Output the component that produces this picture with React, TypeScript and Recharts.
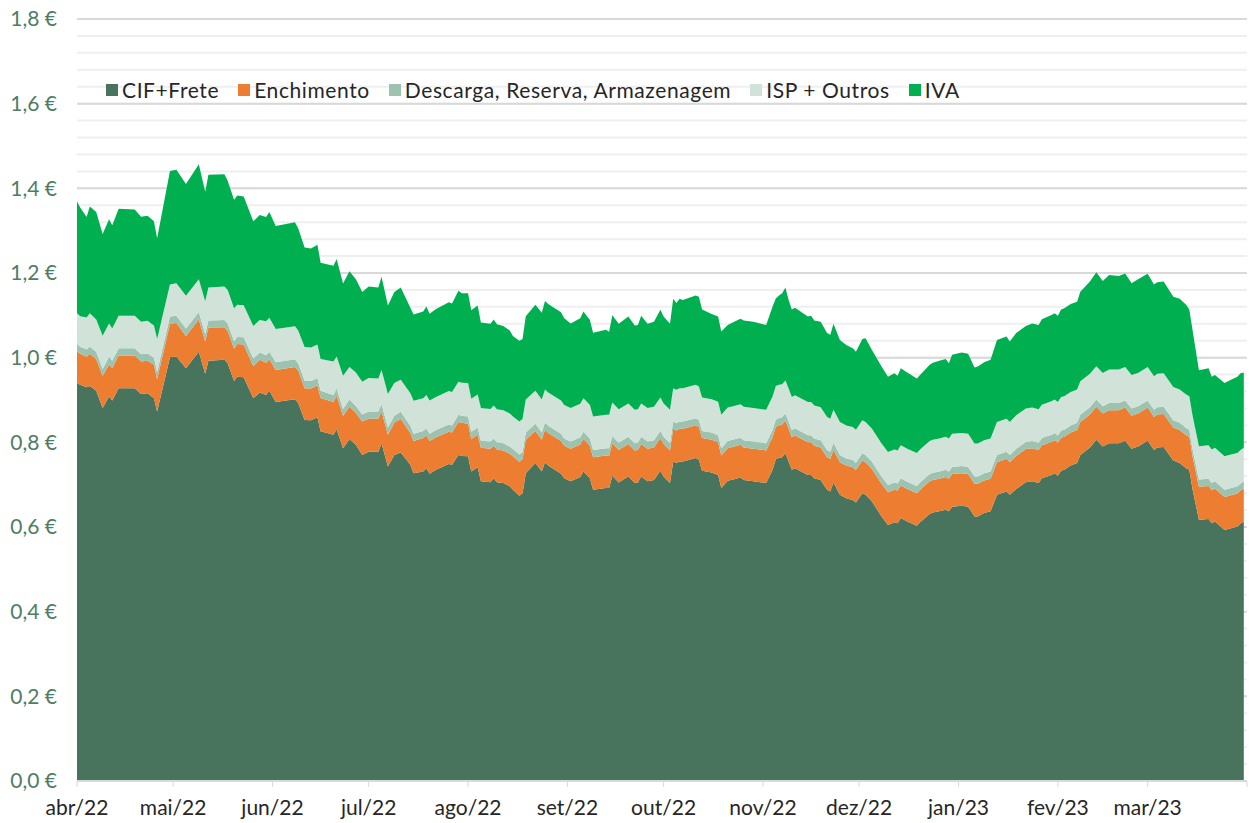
import React from 'react';
import { AreaChart, Area, XAxis, YAxis, CartesianGrid } from 'recharts';

// day index counted from 1 Apr 2022
const days = [
  0, 1, 3, 4, 6, 8, 10, 11, 13, 18, 20, 22, 24, 25, 29, 31, 34, 38, 40, 41,
  46, 47, 49, 50, 52, 55, 57, 59, 60, 62, 68, 69, 71, 73,
  75, 76, 80, 81, 83, 85, 87, 89, 91, 94, 95, 97, 99, 101, 104, 105, 108, 109, 110, 112,
  116, 117, 119, 120, 122, 123, 125, 126, 129, 130, 131, 133, 135, 136, 138, 139, 140, 143, 145, 146,
  147, 151, 152, 154, 157, 158, 160, 161, 165, 166, 167, 169, 172, 174, 175, 176, 178, 180, 182, 183,
  185, 186, 187, 188, 189, 193, 194, 195, 198, 200, 201, 203, 205, 207, 208, 211, 215, 217, 218, 219,
  220, 221, 222, 223, 224, 228, 229, 230, 232, 234, 235, 236, 238, 240, 242, 243, 245, 246, 248, 251,
  253, 255, 256, 257, 259, 262, 263, 266, 267, 269, 271, 272, 273, 276, 278, 280, 281, 283, 285, 287,
  290, 291,
  293, 296, 298, 300, 301, 304, 305, 306, 307, 308, 310, 312, 313, 316, 318, 320, 322, 325, 327, 329,
  331, 334, 336, 337, 339, 342, 344, 346, 347, 348, 350, 353, 354, 355, 358, 360, 362, 363, 364,
];

const cifFrete = [
  0.940, 0.936, 0.930, 0.933, 0.922, 0.881, 0.908, 0.899, 0.928, 0.928, 0.914, 0.916, 0.904, 0.873, 1.001, 1.003, 0.975, 1.014, 0.962, 0.993,
  0.995, 0.987, 0.945, 0.955, 0.954, 0.904, 0.918, 0.912, 0.922, 0.895, 0.902, 0.893, 0.853, 0.852,
  0.859, 0.826, 0.818, 0.831, 0.786, 0.807, 0.794, 0.770, 0.778, 0.778, 0.798, 0.743, 0.770, 0.776, 0.747, 0.727, 0.731, 0.739, 0.726, 0.735,
  0.749, 0.747, 0.770, 0.768, 0.767, 0.731, 0.741, 0.708, 0.706, 0.715, 0.706, 0.704, 0.696, 0.688, 0.674, 0.680, 0.727, 0.751, 0.731, 0.753,
  0.745, 0.726, 0.715, 0.708, 0.718, 0.731, 0.715, 0.688, 0.692, 0.692, 0.721, 0.705, 0.719, 0.704, 0.705, 0.719, 0.708, 0.711, 0.733, 0.719,
  0.704, 0.755, 0.751, 0.755, 0.755, 0.763, 0.759, 0.733, 0.729, 0.723, 0.692, 0.709, 0.713, 0.717, 0.711, 0.708, 0.704, 0.735, 0.760, 0.763,
  0.765, 0.774, 0.755, 0.735, 0.739, 0.723, 0.723, 0.715, 0.711, 0.688, 0.684, 0.705, 0.676, 0.668, 0.664, 0.658, 0.680, 0.676, 0.660, 0.625,
  0.605, 0.611, 0.609, 0.621, 0.613, 0.603, 0.611, 0.631, 0.634, 0.637, 0.641, 0.637, 0.648, 0.650, 0.648, 0.625, 0.625, 0.633, 0.637, 0.676,
  0.684, 0.676,
  0.690, 0.706, 0.708, 0.704, 0.715, 0.723, 0.727, 0.721, 0.733, 0.735, 0.745, 0.751, 0.770, 0.788, 0.806, 0.790, 0.798, 0.798, 0.804, 0.785,
  0.790, 0.804, 0.782, 0.788, 0.789, 0.757, 0.751, 0.739, 0.735, 0.690, 0.617, 0.619, 0.609, 0.613, 0.593, 0.597, 0.601, 0.608, 0.613,
];

const enchimento = [
  0.075, 0.073, 0.072, 0.076, 0.074, 0.076, 0.076, 0.076, 0.077, 0.077, 0.077, 0.077, 0.079, 0.076, 0.079, 0.079, 0.076, 0.076, 0.076, 0.078,
  0.077, 0.076, 0.076, 0.077, 0.077, 0.076, 0.077, 0.076, 0.074, 0.076, 0.076, 0.077, 0.075, 0.075,
  0.076, 0.079, 0.077, 0.079, 0.076, 0.077, 0.075, 0.079, 0.078, 0.078, 0.075, 0.075, 0.076, 0.079, 0.075, 0.076, 0.079, 0.077, 0.077, 0.077,
  0.076, 0.076, 0.078, 0.078, 0.077, 0.077, 0.077, 0.079, 0.079, 0.077, 0.077, 0.077, 0.077, 0.079, 0.080, 0.080, 0.079, 0.076, 0.075, 0.077,
  0.077, 0.077, 0.077, 0.077, 0.077, 0.077, 0.077, 0.077, 0.077, 0.077, 0.077, 0.077, 0.077, 0.077, 0.077, 0.077, 0.077, 0.077, 0.077, 0.077,
  0.077, 0.077, 0.077, 0.077, 0.077, 0.077, 0.077, 0.077, 0.077, 0.077, 0.077, 0.077, 0.077, 0.077, 0.077, 0.077, 0.077, 0.077, 0.077, 0.077,
  0.077, 0.077, 0.077, 0.077, 0.077, 0.077, 0.077, 0.077, 0.077, 0.077, 0.077, 0.077, 0.077, 0.077, 0.077, 0.077, 0.077, 0.077, 0.077, 0.077,
  0.077, 0.077, 0.077, 0.077, 0.077, 0.077, 0.077, 0.077, 0.077, 0.077, 0.077, 0.077, 0.077, 0.077, 0.077, 0.077, 0.077, 0.077, 0.077, 0.077,
  0.077, 0.077,
  0.078, 0.078, 0.078, 0.078, 0.078, 0.078, 0.078, 0.078, 0.078, 0.078, 0.078, 0.078, 0.078, 0.078, 0.078, 0.078, 0.078, 0.078, 0.078, 0.078,
  0.078, 0.078, 0.078, 0.078, 0.078, 0.078, 0.078, 0.078, 0.078, 0.078, 0.078, 0.078, 0.078, 0.078, 0.078, 0.078, 0.078, 0.078, 0.078,
];

const descarga = [
  0.018, 0.017, 0.018, 0.017, 0.018, 0.016, 0.018, 0.018, 0.017, 0.017, 0.017, 0.017, 0.017, 0.017, 0.017, 0.017, 0.018, 0.018, 0.018, 0.017,
  0.017, 0.018, 0.018, 0.017, 0.017, 0.018, 0.017, 0.018, 0.018, 0.018, 0.018, 0.017, 0.018, 0.018,
  0.017, 0.017, 0.017, 0.017, 0.017, 0.017, 0.017, 0.017, 0.017, 0.017, 0.017, 0.017, 0.017, 0.017, 0.017, 0.017, 0.017, 0.017, 0.017, 0.017,
  0.017, 0.017, 0.017, 0.017, 0.017, 0.017, 0.017, 0.017, 0.017, 0.017, 0.017, 0.017, 0.017, 0.017, 0.017, 0.017, 0.017, 0.017, 0.017, 0.017,
  0.017, 0.017, 0.017, 0.017, 0.017, 0.017, 0.017, 0.017, 0.017, 0.017, 0.017, 0.017, 0.017, 0.017, 0.017, 0.017, 0.017, 0.017, 0.017, 0.017,
  0.017, 0.017, 0.017, 0.017, 0.017, 0.017, 0.017, 0.017, 0.017, 0.017, 0.017, 0.017, 0.017, 0.017, 0.017, 0.017, 0.017, 0.017, 0.017, 0.017,
  0.017, 0.017, 0.017, 0.017, 0.017, 0.017, 0.017, 0.017, 0.017, 0.017, 0.017, 0.017, 0.017, 0.017, 0.017, 0.017, 0.017, 0.017, 0.017, 0.017,
  0.017, 0.017, 0.017, 0.017, 0.017, 0.017, 0.017, 0.017, 0.017, 0.017, 0.017, 0.017, 0.017, 0.017, 0.017, 0.017, 0.017, 0.017, 0.017, 0.017,
  0.017, 0.017,
  0.017, 0.017, 0.017, 0.017, 0.017, 0.017, 0.017, 0.017, 0.017, 0.017, 0.017, 0.017, 0.017, 0.017, 0.017, 0.017, 0.017, 0.017, 0.017, 0.017,
  0.017, 0.017, 0.017, 0.017, 0.017, 0.017, 0.017, 0.017, 0.017, 0.017, 0.017, 0.017, 0.017, 0.017, 0.017, 0.017, 0.017, 0.017, 0.017,
];

const ispOutros = [
  0.072, 0.072, 0.075, 0.079, 0.076, 0.079, 0.079, 0.076, 0.077, 0.077, 0.077, 0.077, 0.076, 0.078, 0.076, 0.077, 0.077, 0.077, 0.077, 0.078,
  0.079, 0.079, 0.078, 0.076, 0.076, 0.077, 0.077, 0.080, 0.080, 0.079, 0.078, 0.077, 0.079, 0.079,
  0.079, 0.075, 0.079, 0.076, 0.078, 0.077, 0.079, 0.077, 0.079, 0.078, 0.081, 0.079, 0.077, 0.076, 0.077, 0.078, 0.077, 0.079, 0.079, 0.078,
  0.079, 0.079, 0.078, 0.078, 0.079, 0.078, 0.078, 0.077, 0.077, 0.078, 0.078, 0.078, 0.078, 0.077, 0.078, 0.078, 0.078, 0.078, 0.078, 0.078,
  0.079, 0.079, 0.079, 0.079, 0.079, 0.079, 0.079, 0.079, 0.079, 0.079, 0.079, 0.079, 0.079, 0.079, 0.079, 0.079, 0.079, 0.079, 0.079, 0.079,
  0.079, 0.079, 0.079, 0.079, 0.079, 0.079, 0.079, 0.079, 0.079, 0.079, 0.079, 0.079, 0.079, 0.079, 0.079, 0.079, 0.079, 0.079, 0.079, 0.079,
  0.078, 0.078, 0.078, 0.078, 0.078, 0.078, 0.078, 0.078, 0.078, 0.078, 0.078, 0.078, 0.078, 0.078, 0.078, 0.078, 0.078, 0.078, 0.078, 0.078,
  0.078, 0.078, 0.078, 0.078, 0.078, 0.078, 0.078, 0.078, 0.078, 0.078, 0.078, 0.078, 0.078, 0.078, 0.078, 0.078, 0.078, 0.078, 0.078, 0.078,
  0.078, 0.078,
  0.079, 0.079, 0.079, 0.079, 0.079, 0.079, 0.079, 0.079, 0.079, 0.079, 0.079, 0.079, 0.079, 0.079, 0.079, 0.079, 0.079, 0.079, 0.079, 0.079,
  0.079, 0.079, 0.079, 0.079, 0.079, 0.079, 0.079, 0.079, 0.079, 0.079, 0.079, 0.079, 0.079, 0.079, 0.079, 0.079, 0.079, 0.079, 0.079,
];

const iva = [
  0.264, 0.257, 0.237, 0.252, 0.254, 0.240, 0.246, 0.244, 0.253, 0.251, 0.248, 0.248, 0.246, 0.238, 0.268, 0.268, 0.264, 0.272, 0.259, 0.266,
  0.265, 0.258, 0.256, 0.258, 0.257, 0.247, 0.248, 0.246, 0.250, 0.243, 0.246, 0.242, 0.235, 0.234,
  0.236, 0.227, 0.226, 0.230, 0.218, 0.226, 0.220, 0.212, 0.216, 0.215, 0.220, 0.209, 0.215, 0.218, 0.202, 0.204, 0.205, 0.209, 0.205, 0.208,
  0.210, 0.209, 0.215, 0.211, 0.212, 0.209, 0.210, 0.202, 0.201, 0.203, 0.201, 0.199, 0.196, 0.190, 0.191, 0.189, 0.197, 0.203, 0.205, 0.209,
  0.209, 0.208, 0.205, 0.200, 0.202, 0.205, 0.201, 0.198, 0.201, 0.196, 0.206, 0.202, 0.205, 0.199, 0.199, 0.207, 0.199, 0.201, 0.207, 0.205,
  0.203, 0.211, 0.205, 0.211, 0.208, 0.211, 0.212, 0.208, 0.201, 0.201, 0.197, 0.195, 0.199, 0.202, 0.204, 0.204, 0.200, 0.213, 0.207, 0.211,
  0.215, 0.220, 0.209, 0.207, 0.207, 0.202, 0.204, 0.201, 0.202, 0.198, 0.198, 0.203, 0.194, 0.190, 0.186, 0.184, 0.192, 0.198, 0.186, 0.182,
  0.178, 0.180, 0.176, 0.182, 0.180, 0.176, 0.176, 0.180, 0.182, 0.184, 0.184, 0.178, 0.187, 0.190, 0.189, 0.180, 0.182, 0.184, 0.186, 0.194,
  0.194, 0.190,
  0.194, 0.195, 0.199, 0.199, 0.202, 0.204, 0.204, 0.204, 0.207, 0.208, 0.208, 0.207, 0.212, 0.218, 0.222, 0.217, 0.223, 0.221, 0.221, 0.217,
  0.221, 0.220, 0.217, 0.216, 0.217, 0.213, 0.214, 0.212, 0.205, 0.202, 0.179, 0.182, 0.172, 0.172, 0.173, 0.177, 0.180, 0.181, 0.178,
];

const seriesKeys = ['cif', 'ench', 'desc', 'isp', 'iva'];
const seriesNames = ['CIF+Frete', 'Enchimento', 'Descarga, Reserva, Armazenagem', 'ISP + Outros', 'IVA'];
const seriesColors = ['#48735D', '#ED7D31', '#9DC3B0', '#D1E3D9', '#00B050'];

const monthTicks = [0, 30, 61, 91, 122, 153, 183, 214, 244, 275, 306, 334, 365];
const monthLabels = ['abr/22', 'mai/22', 'jun/22', 'jul/22', 'ago/22', 'set/22', 'out/22', 'nov/22', 'dez/22', 'jan/23', 'fev/23', 'mar/23', ''];
const yMax = 1.8;
const yTicks = [0, 0.2, 0.4, 0.6, 0.8, 1.0, 1.2, 1.4, 1.6, 1.8];
// minor gridlines every 0.04
const minorTicks = Array.from({ length: 46 }, (_, i) => Math.round(i * 4) / 100);

const data = days.map((d, i) => ({
  day: d,
  cif: cifFrete[i],
  ench: enchimento[i],
  desc: descarga[i],
  isp: ispOutros[i],
  iva: iva[i],
}));

const FONT = 'Lato, "Noto Sans", sans-serif';

const formatEuro = (v: number) => `${v.toFixed(1).replace('.', ',')} €`;
const formatMonth = (v: number) => {
  const idx = monthTicks.indexOf(v);
  return idx >= 0 ? monthLabels[idx] : '';
};

// minor gridlines: place them inside the plot box
const minorLines = ({ offset }: any) =>
  minorTicks.map((t) => offset.top + offset.height * (1 - t / yMax));

const ChartLegend = () => (
  <div
    style={{
      position: 'absolute',
      top: 78,
      left: 106,
      display: 'flex',
      alignItems: 'center',
      fontFamily: FONT,
      fontSize: 21,
      letterSpacing: 0.6,
      lineHeight: '24px',
      color: '#262626',
      whiteSpace: 'nowrap',
    }}
  >
    {seriesNames.map((name, i) => (
      <div key={name} style={{ display: 'flex', alignItems: 'center', marginRight: 19 }}>
        <span style={{ width: 12, height: 12, background: seriesColors[i], marginRight: 4, display: 'inline-block' }} />
        <span>{name}</span>
      </div>
    ))}
  </div>
);

export default function App() {
  return (
    <div style={{ position: 'absolute', left: 0, top: 0, width: 1253, height: 823, fontFamily: FONT, background: '#fff' }}>
      <AreaChart width={1253} height={823} data={data} margin={{ top: 19, right: 6, bottom: 0, left: 0 }}>
        <CartesianGrid vertical={false} stroke="#EFEFEF" strokeWidth={2} horizontalCoordinatesGenerator={minorLines} />
        <CartesianGrid vertical={false} stroke="#D9D9D9" strokeWidth={2} />
        <XAxis
          dataKey="day"
          type="number"
          domain={[0, 365]}
          ticks={monthTicks}
          interval={0}
          tickFormatter={formatMonth}
          height={42}
          tickSize={6}
          tickMargin={13}
          tick={{ fill: '#262626', fontSize: 21, fontFamily: FONT }}
          tickLine={{ stroke: '#D9D9D9' }}
          axisLine={{ stroke: '#D9D9D9', strokeWidth: 2 }}
        />
        <YAxis
          domain={[0, yMax]}
          ticks={yTicks}
          interval={0}
          width={77}
          axisLine={false}
          tickLine={false}
          tickSize={0}
          tickMargin={20}
          tickFormatter={formatEuro}
          tick={{ fill: '#4E7D66', fontSize: 21, fontFamily: FONT }}
        />
        {seriesKeys.map((key, i) => (
          <Area
            key={key}
            dataKey={key}
            name={seriesNames[i]}
            stackId="total"
            type="linear"
            fill={seriesColors[i]}
            fillOpacity={1}
            stroke="none"
            isAnimationActive={false}
          />
        ))}
      </AreaChart>
      <ChartLegend />
    </div>
  );
}
